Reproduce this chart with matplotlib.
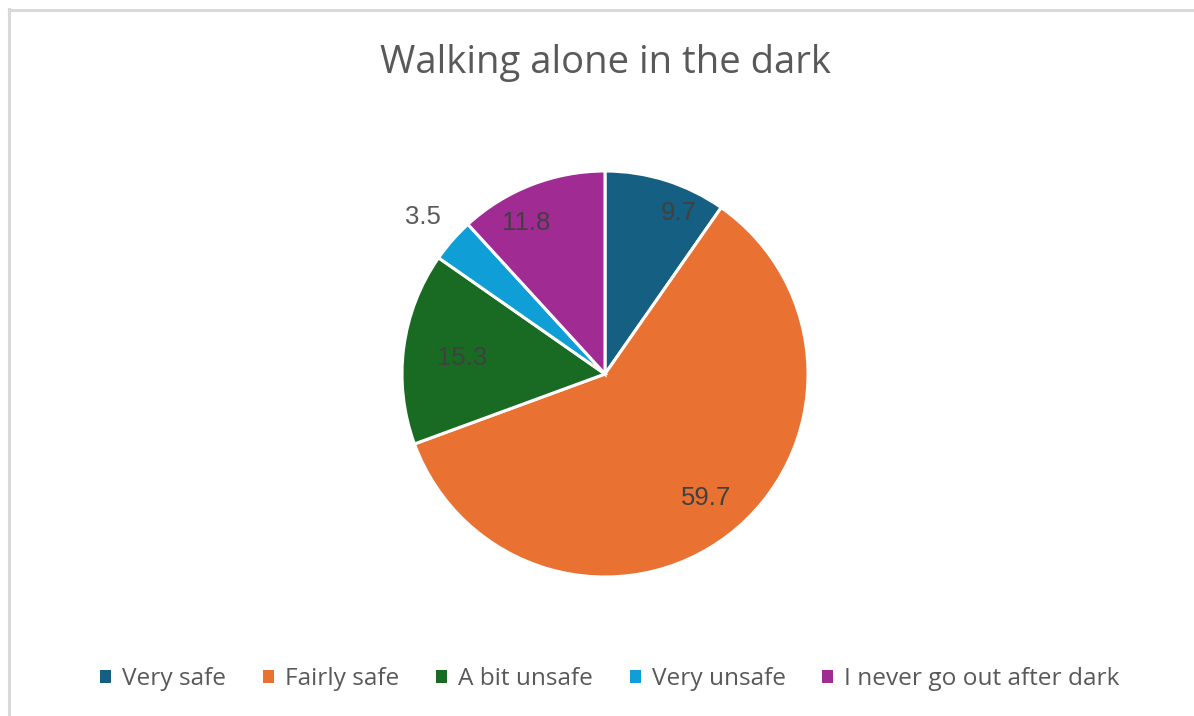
import numpy as np
import matplotlib
matplotlib.use("Agg")
import matplotlib.pyplot as plt
from matplotlib.lines import Line2D
from matplotlib.patches import Patch

# survey answers, percent
categories = ["Very safe", "Fairly safe", "A bit unsafe", "Very unsafe",
              "I never go out after dark"]
values = [9.7, 59.7, 15.3, 3.5, 11.8]
colors = ["#156082", "#E97132", "#196B24", "#0F9ED5", "#A02B93"]

W, H = 1194, 716
fig = plt.figure(figsize=(W / 100, H / 100), dpi=100)

# pie: centre (605, 374) px, radius 203 px
cx, cy, r = 605, 374, 203
ax = fig.add_axes([(cx - r) / W, (H - cy - r) / H, 2 * r / W, 2 * r / H])
wedges, _ = ax.pie(values, colors=colors, startangle=90, counterclock=False,
                   radius=1, wedgeprops=dict(edgecolor="white", linewidth=2.2))
ax.set_xlim(-1, 1)
ax.set_ylim(-1, 1)
ax.set_aspect("equal")
ax.axis("off")

# label placement: distance from centre and small angle nudge per slice
label_dist = [0.88, 0.78, 0.71, 1.19, 0.85]
label_nudge = [-7, 2, 0, 0, 6]
for w, v, d, n in zip(wedges, values, label_dist, label_nudge):
    ang = np.deg2rad((w.theta1 + w.theta2) / 2 + n)
    col = "#595959" if d > 1 else "#404040"
    ax.text(d * np.cos(ang), d * np.sin(ang) - 0.01, f"{v}", ha="center", va="center",
            fontsize=18.5, color=col, family=["Liberation Sans", "DejaVu Sans"])

fig.text(605 / W, 1 - 63 / H, "Walking alone in the dark", ha="center",
         va="center", fontsize=27.5, color="#595959",
         family=["Open Sans", "DejaVu Sans"])

handles = [Patch(facecolor=c, edgecolor="none") for c in colors]
fig.legend(handles, categories, loc="center", bbox_to_anchor=(610 / W, 1 - 679 / H),
           ncol=5, frameon=False, handlelength=0.45, handleheight=0.45,
           handletextpad=0.45, columnspacing=1.5,
           prop=dict(family=["Open Sans", "DejaVu Sans"], size=17.6),
           labelcolor="#595959")

# light frame along top and left edges
fig.add_artist(Line2D([8.5 / W, 1], [1 - 9.5 / H, 1 - 9.5 / H],
                      transform=fig.transFigure, color="#d9d9d9", lw=2.2))
fig.add_artist(Line2D([8.5 / W, 8.5 / W], [0, 1 - 8.5 / H],
                      transform=fig.transFigure, color="#d9d9d9", lw=2.2))

fig.savefig("out.png", dpi=100)
